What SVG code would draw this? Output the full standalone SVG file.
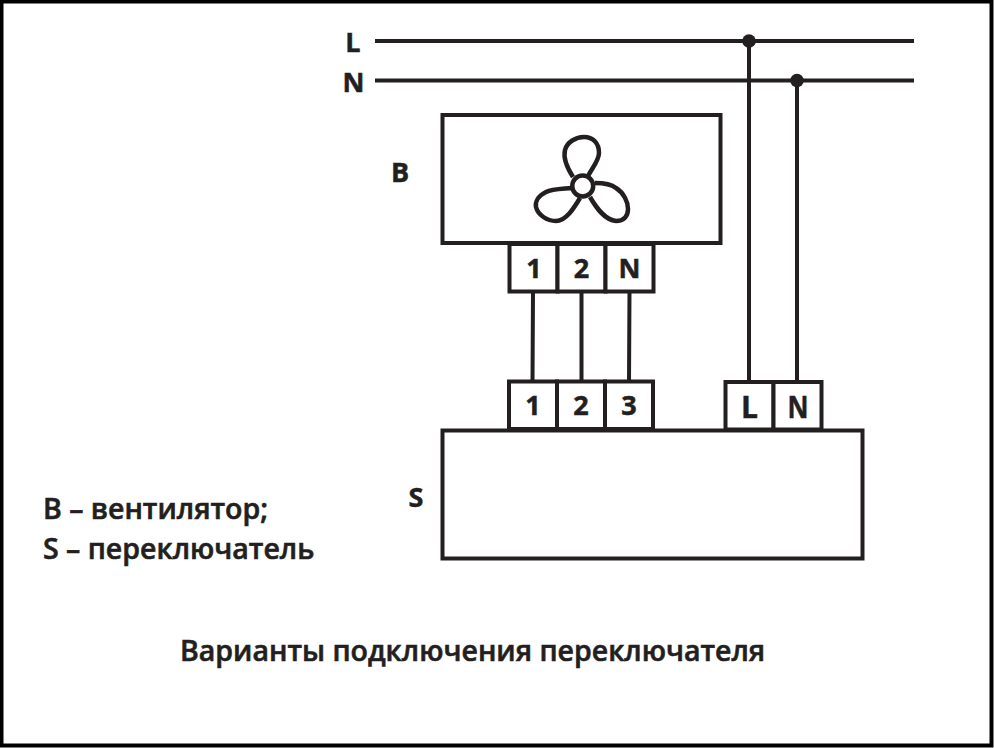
<svg xmlns="http://www.w3.org/2000/svg" width="994" height="748" viewBox="0 0 994 748">
<style>
.box{fill:#fff;stroke:#231f20;stroke-width:4}
.w{fill:none;stroke:#231f20;stroke-width:4}
.t{font-family:"Open Sans","Noto Sans",sans-serif;font-weight:700;fill:#231f20}
.l{font-size:27px;text-anchor:middle;stroke:#231f20;stroke-width:.5}
.p{font-size:28.500px;font-weight:600;stroke:#231f20;stroke-width:.6}
.f{fill:none;stroke:#231f20;stroke-width:4.500;stroke-linejoin:round}
</style>
<rect x="0" y="0" width="994" height="748" fill="#fff"/>
<rect x="1.500" y="1.500" width="990" height="744" fill="none" stroke="#000" stroke-width="4"/>
<g id="connectors">
<path class="w" d="M375 41H914M375 80.500H914M749 41V382M797 80.500V382M533 292L532.500 382M581.500 292V382M629.500 292L629 382"/>
<circle cx="749" cy="41" r="6.800" fill="#231f20"/>
<circle cx="797" cy="80.500" r="6.800" fill="#231f20"/>
</g>
<g id="line-L"><text class="t l" x="353" y="52">L</text></g>
<g id="line-N"><text class="t l" x="353.500" y="92">N</text></g>
<g id="fan-B">
<rect class="box" x="442.500" y="115" width="278" height="128"/>
<path class="f" d="M573 177C566 166 563 158 565 150C567 142 576 137 584 137C593 137 599 143 599 153C599 160 593 167 588 176"/>
<path class="f" d="M572 188C562 189 552 189 546 192C538 196 535 202 536 207C538 215 547 221 556 221C566 221 574 208 580 198"/>
<path class="f" d="M595 183C603 183 611 184 616 188C624 193 628 202 628 209C628 216 624 221 616 221C605 220 597 209 590 197"/>
<circle class="f" cx="582.700" cy="186" r="10.500"/>
<text class="t l" x="400" y="182">B</text>
</g>
<g id="fan-terminals">
<rect class="box" x="509.500" y="244" width="48" height="47.500"/>
<rect class="box" x="557.500" y="244" width="48" height="47.500"/>
<rect class="box" x="605.500" y="244" width="48" height="47.500"/>
<text class="t l" x="534" y="278">1</text>
<text class="t l" x="581.500" y="278">2</text>
<text class="t l" x="629.500" y="278">N</text>
</g>
<g id="switch-S">
<rect class="box" x="442.500" y="430.500" width="420" height="128"/>
<text class="t l" x="416" y="507">S</text>
</g>
<g id="switch-terminals">
<rect class="box" x="509" y="381.500" width="48" height="47.500"/>
<rect class="box" x="557" y="381.500" width="48" height="47.500"/>
<rect class="box" x="605" y="381.500" width="48" height="47.500"/>
<rect class="box" x="725.500" y="382" width="48" height="47.500"/>
<rect class="box" x="773.500" y="382" width="48" height="47.500"/>
<text class="t l" x="533" y="415">1</text>
<text class="t l" x="581" y="415">2</text>
<text class="t l" x="629" y="415">3</text>
<text class="t l" x="749.500" y="418" style="font-size:30px">L</text>
<text class="t l" x="798" y="418" style="font-size:30px" textLength="21" lengthAdjust="spacingAndGlyphs">N</text>
</g>
<g id="legend">
<text class="t p" x="43" y="519">B – вентилятор;</text>
<text class="t p" x="43" y="559">S – переключатель</text>
</g>
<g id="caption"><text class="t p" x="180" y="661">Варианты подключения переключателя</text></g>
</svg>
